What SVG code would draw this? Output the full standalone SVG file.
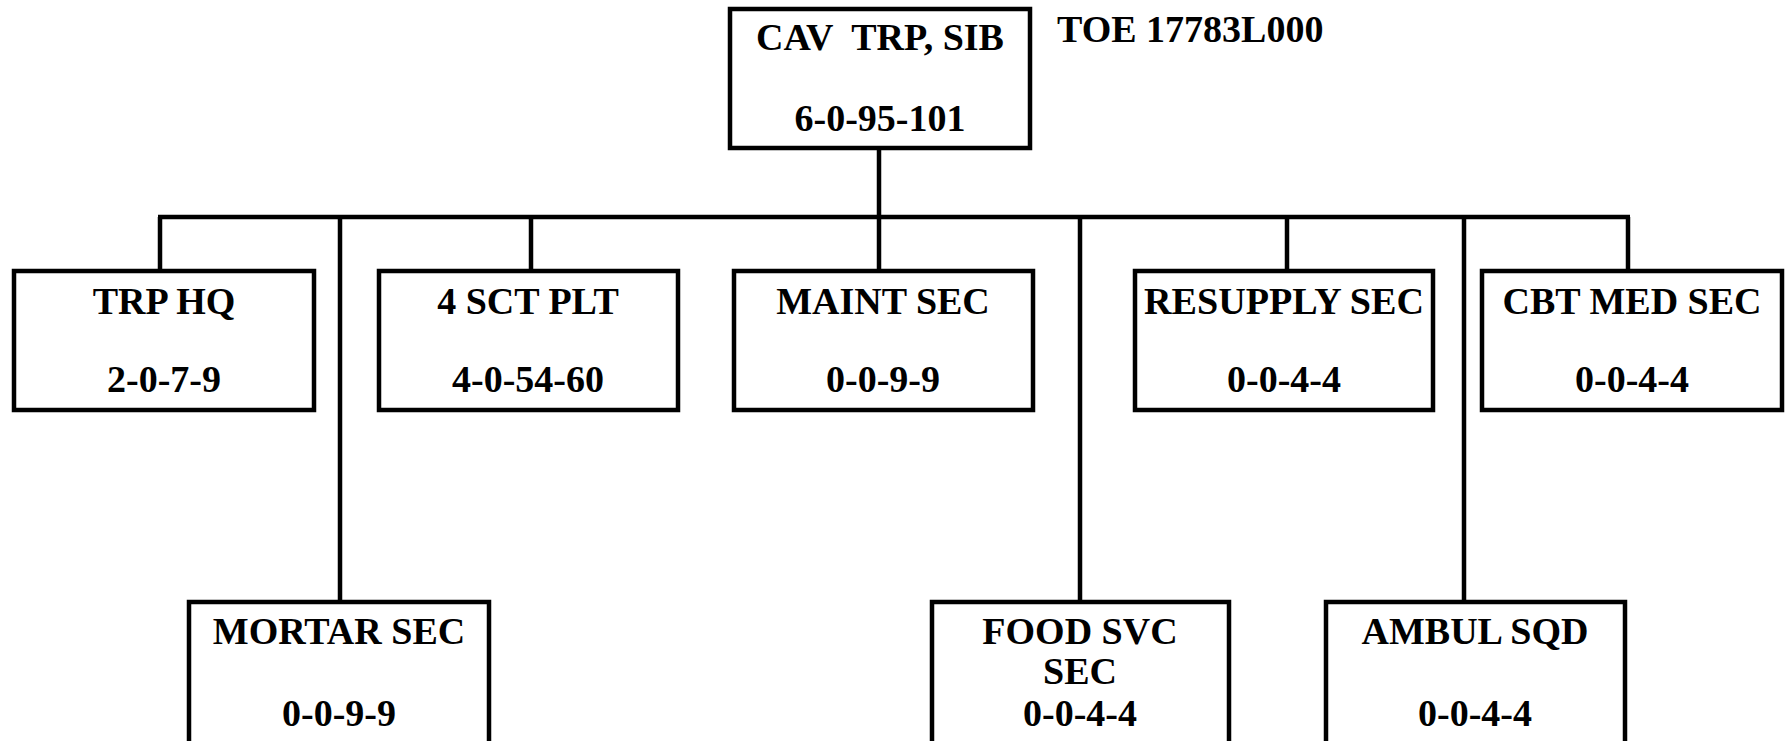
<svg xmlns="http://www.w3.org/2000/svg" width="1788" height="741" viewBox="0 0 1788 741">
<style>
.box{fill:#fff;stroke:#000;stroke-width:4.5}
.t{font-family:"Liberation Serif","Times New Roman",serif;font-weight:bold;font-size:38px;fill:#000;text-anchor:middle}
.c{stroke:#000;stroke-width:4.5;fill:none}
</style>
<rect width="1788" height="741" fill="#fff"/>
<g id="connectors">
<line class="c" x1="879" y1="148" x2="879" y2="217"/>
<line class="c" x1="158" y1="217" x2="1630" y2="217"/>
<line class="c" x1="160" y1="217" x2="160" y2="271"/>
<line class="c" x1="340" y1="217" x2="340" y2="602"/>
<line class="c" x1="531" y1="217" x2="531" y2="271"/>
<line class="c" x1="879" y1="217" x2="879" y2="271"/>
<line class="c" x1="1080" y1="217" x2="1080" y2="602"/>
<line class="c" x1="1287" y1="217" x2="1287" y2="271"/>
<line class="c" x1="1464" y1="217" x2="1464" y2="602"/>
<line class="c" x1="1628" y1="217" x2="1628" y2="271"/>
</g>
<g id="root">
<rect class="box" x="730" y="9" width="300" height="139"/>
<text class="t" x="880" y="50" xml:space="preserve">CAV  TRP, SIB</text>
<text class="t" x="880" y="131">6-0-95-101</text>
</g>
<g id="toe">
<text class="t" x="1057" y="42" style="text-anchor:start">TOE 17783L000</text>
</g>
<g id="trp-hq">
<rect class="box" x="14" y="271" width="300" height="139"/>
<text class="t" x="164" y="314">TRP HQ</text>
<text class="t" x="164" y="392">2-0-7-9</text>
</g>
<g id="sct-plt">
<rect class="box" x="379" y="271" width="299" height="139"/>
<text class="t" x="528" y="314">4 SCT PLT</text>
<text class="t" x="528" y="392">4-0-54-60</text>
</g>
<g id="maint-sec">
<rect class="box" x="734" y="271" width="299" height="139"/>
<text class="t" x="883" y="314">MAINT SEC</text>
<text class="t" x="883" y="392">0-0-9-9</text>
</g>
<g id="resupply-sec">
<rect class="box" x="1135" y="271" width="298" height="139"/>
<text class="t" x="1284" y="314" textLength="280" lengthAdjust="spacingAndGlyphs">RESUPPLY SEC</text>
<text class="t" x="1284" y="392">0-0-4-4</text>
</g>
<g id="cbt-med-sec">
<rect class="box" x="1482" y="271" width="300" height="139"/>
<text class="t" x="1632" y="314">CBT MED SEC</text>
<text class="t" x="1632" y="392">0-0-4-4</text>
</g>
<g id="mortar-sec">
<rect class="box" x="189" y="602" width="300" height="145"/>
<text class="t" x="339" y="644">MORTAR SEC</text>
<text class="t" x="339" y="726">0-0-9-9</text>
</g>
<g id="food-svc-sec">
<rect class="box" x="932" y="602" width="297" height="145"/>
<text class="t" x="1080" y="644">FOOD SVC</text>
<text class="t" x="1080" y="684">SEC</text>
<text class="t" x="1080" y="726">0-0-4-4</text>
</g>
<g id="ambul-sqd">
<rect class="box" x="1326" y="602" width="299" height="145"/>
<text class="t" x="1475" y="644">AMBUL SQD</text>
<text class="t" x="1475" y="726">0-0-4-4</text>
</g>
</svg>
